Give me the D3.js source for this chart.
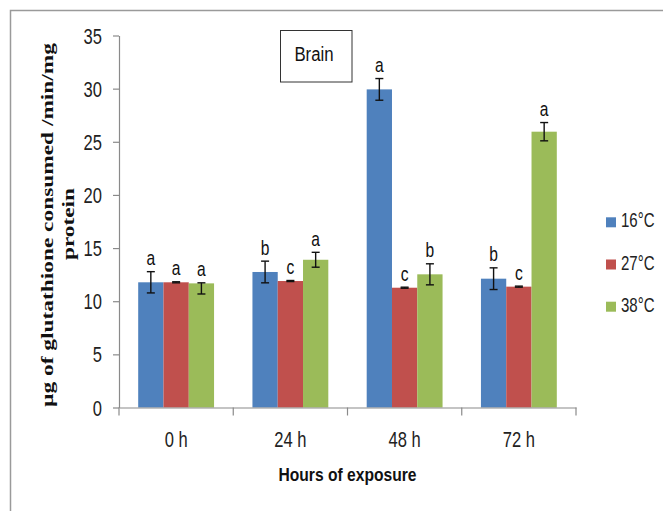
<!DOCTYPE html>
<html>
<head>
<meta charset="utf-8">
<script src="https://cdn.jsdelivr.net/npm/d3@7"></script>
<style>
  html, body { margin: 0; padding: 0; background: #fff; }
  svg { display: block; }
  .sans { font-family: "Liberation Sans", Arial, sans-serif; }
</style>
</head>
<body>
<svg id="chart" width="663" height="511"></svg>
<script>
// Glutathione consumption in brain tissue by exposure time and temperature
const categories = ["0 h", "24 h", "48 h", "72 h"];
const seriesNames = ["16°C", "27°C", "38°C"];
const seriesColors = ["#4F81BD", "#C0504D", "#9BBB59"];

const values16 = [11.78, 12.75, 29.93, 12.12];
const values27 = [11.78, 11.90, 11.27, 11.37];
const values38 = [11.68, 13.90, 12.53, 25.95];

const errUp16 = [1.00, 1.02, 1.02, 1.02];
const errDown16 = [1.00, 1.02, 1.02, 1.02];
const errUp27 = [0.05, 0.05, 0.05, 0.05];
const errDown27 = [0.05, 0.05, 0.05, 0.05];
const errUp38 = [0.05, 0.70, 0.99, 0.86];
const errDown38 = [1.00, 0.70, 0.99, 0.86];

const letters16 = ["a", "b", "a", "b"];
const letters27 = ["a", "c", "c", "c"];
const letters38 = ["a", "a", "b", "a"];

const yTicks = [0, 5, 10, 15, 20, 25, 30, 35];

const series = [
  { name: seriesNames[0], color: seriesColors[0], values: values16, up: errUp16, down: errDown16, letters: letters16 },
  { name: seriesNames[1], color: seriesColors[1], values: values27, up: errUp27, down: errDown27, letters: letters27 },
  { name: seriesNames[2], color: seriesColors[2], values: values38, up: errUp38, down: errDown38, letters: letters38 }
];

// horizontal condensing applied to text, giving a narrow face
const SQUEEZE = 0.77;
function condense(sel, sx) {
  sel.each(function () {
    const t = d3.select(this);
    const x0 = +t.attr("x") || 0;
    const y0 = +t.attr("y") || 0;
    t.attr("x", null).attr("y", null)
     .attr("transform", `translate(${x0},${y0}) scale(${sx},1)`);
  });
}

const svg = d3.select("#chart");

// outer frame
svg.append("path")
  .attr("d", "M10.5,511 L10.5,10.5 L663,10.5")
  .attr("fill", "none")
  .attr("stroke", "#9a9a9a")
  .attr("stroke-width", 1.5);

const plot = { left: 119, right: 576, top: 35.5, bottom: 407.5 };

const x = d3.scaleBand()
  .domain(categories)
  .range([plot.left, plot.right])
  .paddingInner(0.336)
  .paddingOuter(0.168);

const xInner = d3.scaleBand()
  .domain(seriesNames)
  .range([0, x.bandwidth()])
  .padding(0);

const y = d3.scaleLinear()
  .domain([0, 35])
  .range([plot.bottom, plot.top]);

// bars
const groups = svg.append("g").selectAll("g")
  .data(series)
  .join("g")
  .attr("fill", d => d.color);

groups.selectAll("rect")
  .data(s => s.values.map((v, i) => ({ v, cat: categories[i], s })))
  .join("rect")
  .attr("x", d => x(d.cat) + xInner(d.s.name))
  .attr("y", d => y(d.v))
  .attr("width", xInner.bandwidth())
  .attr("height", d => y(0) - y(d.v));

// error bars
const errData = [];
series.forEach(s => s.values.forEach((v, i) => {
  errData.push({
    cx: x(categories[i]) + xInner(s.name) + xInner.bandwidth() / 2,
    hi: v + s.up[i], lo: v - s.down[i], letter: s.letters[i]
  });
}));

const eb = svg.append("g")
  .attr("stroke", "#111")
  .attr("stroke-width", 1.4)
  .attr("fill", "none");
const capHalf = 4;
errData.forEach(d => {
  eb.append("line").attr("x1", d.cx).attr("x2", d.cx).attr("y1", y(d.hi)).attr("y2", y(d.lo));
  eb.append("line").attr("x1", d.cx - capHalf).attr("x2", d.cx + capHalf).attr("y1", y(d.hi)).attr("y2", y(d.hi));
  eb.append("line").attr("x1", d.cx - capHalf).attr("x2", d.cx + capHalf).attr("y1", y(d.lo)).attr("y2", y(d.lo));
});

// significance letters
svg.append("g").attr("class", "sans")
  .selectAll("text")
  .data(errData)
  .join("text")
  .attr("x", d => d.cx)
  .attr("y", d => y(d.hi) - 6.5)
  .attr("text-anchor", "middle")
  .attr("font-size", 19.5)
  .attr("fill", "#111")
  .text(d => d.letter)
  .call(condense, 0.8);

// y axis
const yAxis = svg.append("g")
  .attr("class", "sans")
  .attr("transform", `translate(${plot.left},0)`)
  .call(d3.axisLeft(y).tickValues(yTicks).tickSize(6).tickPadding(11).tickSizeOuter(0));
yAxis.select(".domain").attr("stroke", "#8a8a8a").attr("stroke-width", 1.2);
yAxis.selectAll(".tick line").attr("stroke", "#8a8a8a").attr("stroke-width", 1.2);
yAxis.selectAll(".tick text")
  .attr("font-size", 21.5).attr("fill", "#222")
  .attr("dy", "0.35em")
  .call(condense, SQUEEZE);

// x axis
const xAxis = svg.append("g")
  .attr("class", "sans")
  .attr("transform", `translate(0,${plot.bottom})`)
  .call(d3.axisBottom(x).tickSize(0).tickSizeOuter(0));
xAxis.select(".domain").attr("stroke", "#8a8a8a").attr("stroke-width", 1.2);
xAxis.selectAll(".tick text")
  .attr("font-size", 21.5).attr("fill", "#222")
  .attr("y", 39).attr("dy", 0)
  .call(condense, SQUEEZE);
// category boundary ticks
const bounds = categories.map(c => x(c) - x.step() * x.paddingInner() / 2).concat([plot.right]);
bounds[0] = plot.left;
xAxis.append("g").selectAll("line")
  .data(bounds)
  .join("line")
  .attr("x1", d => d).attr("x2", d => d)
  .attr("y1", 0).attr("y2", 8)
  .attr("stroke", "#8a8a8a").attr("stroke-width", 1.2);

// axis titles
svg.append("text")
  .attr("class", "sans")
  .attr("x", 347.5).attr("y", 480.5)
  .attr("text-anchor", "middle")
  .attr("font-weight", "bold")
  .attr("font-size", 18)
  .attr("textLength", 138)
  .attr("lengthAdjust", "spacingAndGlyphs")
  .attr("fill", "#111")
  .text("Hours of exposure");

const yTitle = svg.append("g")
  .attr("font-family", "'Liberation Serif', 'Times New Roman', serif")
  .attr("font-weight", "bold")
  .attr("font-size", 17.5)
  .attr("fill", "#111");
yTitle.append("text")
  .attr("transform", "translate(53,225) rotate(-90)")
  .attr("text-anchor", "middle")
  .attr("textLength", 364)
  .attr("lengthAdjust", "spacingAndGlyphs")
  .text("µg of glutathione consumed /min/mg");
yTitle.append("text")
  .attr("transform", "translate(73.5,224) rotate(-90)")
  .attr("text-anchor", "middle")
  .attr("textLength", 72)
  .attr("lengthAdjust", "spacingAndGlyphs")
  .text("protein");

// title box
svg.append("rect")
  .attr("x", 280.5).attr("y", 30.5)
  .attr("width", 71.5).attr("height", 51.5)
  .attr("fill", "#fff")
  .attr("stroke", "#333").attr("stroke-width", 1);
svg.append("text")
  .attr("class", "sans")
  .attr("x", 314).attr("y", 61)
  .attr("text-anchor", "middle")
  .attr("font-size", 21)
  .attr("fill", "#111")
  .text("Brain")
  .call(condense, 0.8);

// legend
const legend = svg.append("g").attr("class", "sans")
  .selectAll("g")
  .data(series)
  .join("g")
  .attr("transform", (d, i) => `translate(606,${217.3 + i * 42.2})`);
legend.append("rect")
  .attr("width", 10).attr("height", 10)
  .attr("fill", d => d.color);
legend.append("text")
  .attr("x", 15).attr("y", 10)
  .attr("font-size", 19.5)
  .attr("fill", "#222")
  .text(d => d.name)
  .call(condense, SQUEEZE);
</script>
</body>
</html>
